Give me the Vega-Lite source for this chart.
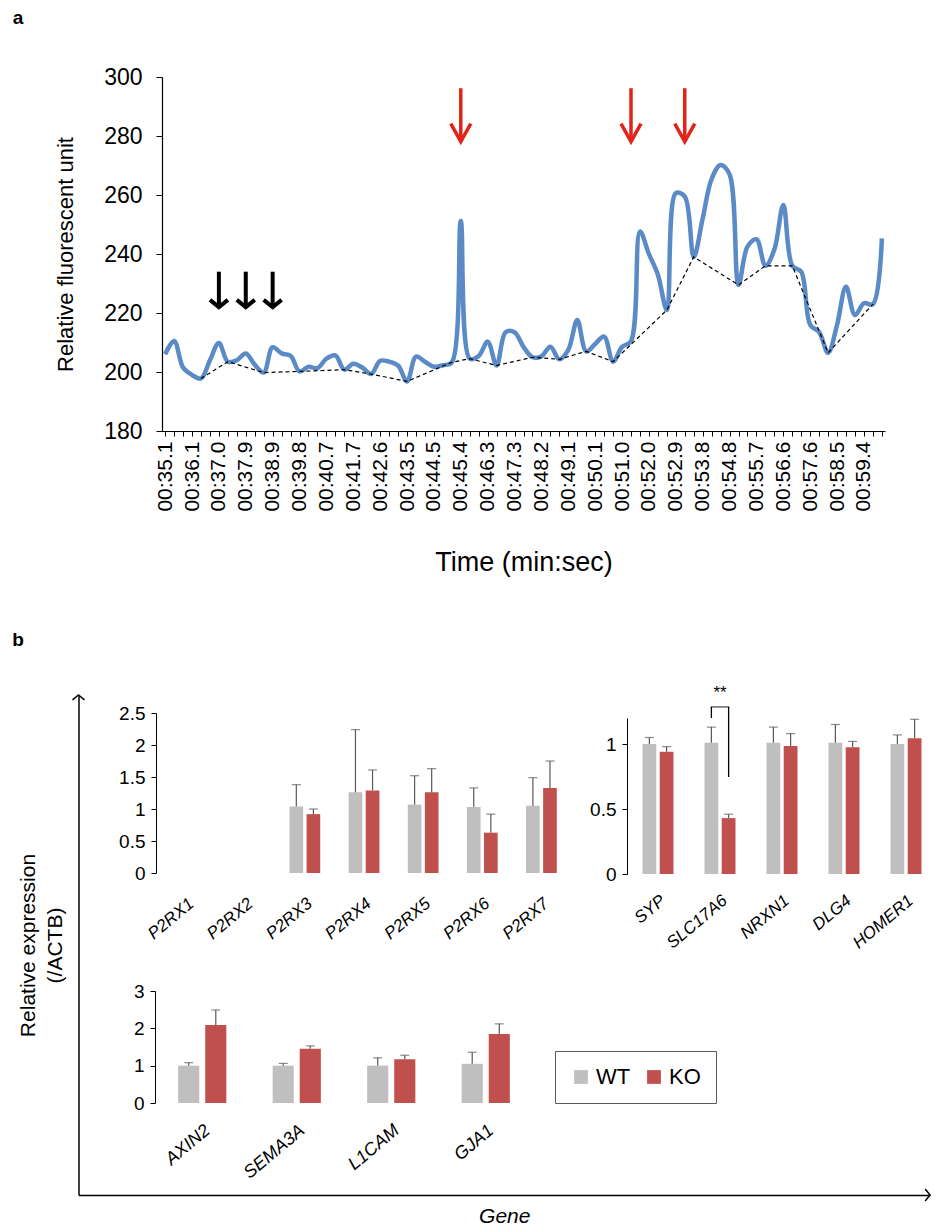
{
  "$schema": "https://vega.github.io/schema/vega-lite/v6.json",
  "width": 937,
  "height": 1230,
  "autosize": {"type": "none"},
  "padding": 0,
  "background": "#ffffff",
  "config": {
    "view": {"stroke": null},
    "font": "Liberation Sans",
    "axis": {"grid": false, "domainColor": "#000000", "tickColor": "#000000", "labelColor": "#000000", "titleColor": "#000000", "labelFont": "Liberation Sans", "titleFont": "Liberation Sans", "titleFontWeight": "normal", "labelOverlap": false, "labelFlush": false, "labelBound": false}
  },
  "datasets": {
    "trace": [
      {"t": "00:35.1", "rfu": 206}, {"t": "00:35.4", "rfu": 210.5}, {"t": "00:35.8", "rfu": 201.5},
      {"t": "00:36.1", "rfu": 199}, {"t": "00:36.4", "rfu": 197.8, "base": 197.8}, {"t": "00:36.7", "rfu": 204},
      {"t": "00:37.0", "rfu": 209.8}, {"t": "00:37.3", "rfu": 203.5, "base": 203.5}, {"t": "00:37.6", "rfu": 204},
      {"t": "00:37.9", "rfu": 206.3}, {"t": "00:38.2", "rfu": 202.5}, {"t": "00:38.5", "rfu": 199.8, "base": 199.8},
      {"t": "00:38.9", "rfu": 208.4}, {"t": "00:39.2", "rfu": 206.3}, {"t": "00:39.5", "rfu": 205.5},
      {"t": "00:39.8", "rfu": 200.2, "base": 200.2}, {"t": "00:40.1", "rfu": 201.8}, {"t": "00:40.4", "rfu": 201.3},
      {"t": "00:40.7", "rfu": 204.5}, {"t": "00:41.0", "rfu": 205.6}, {"t": "00:41.3", "rfu": 200.8, "base": 200.8},
      {"t": "00:41.7", "rfu": 202.8}, {"t": "00:42.0", "rfu": 201.5}, {"t": "00:42.3", "rfu": 199.3, "base": 199.3},
      {"t": "00:42.6", "rfu": 203.8}, {"t": "00:42.9", "rfu": 203.5}, {"t": "00:43.2", "rfu": 202.2},
      {"t": "00:43.5", "rfu": 196.8, "base": 196.8}, {"t": "00:43.8", "rfu": 205.2}, {"t": "00:44.1", "rfu": 203.5},
      {"t": "00:44.5", "rfu": 201.8}, {"t": "00:44.8", "rfu": 202.3}, {"t": "00:45.1", "rfu": 203.3, "base": 203.3},
      {"t": "00:45.4", "rfu": 251.2}, {"t": "00:45.7", "rfu": 204.5, "base": 204.5}, {"t": "00:46.0", "rfu": 205.4},
      {"t": "00:46.3", "rfu": 210.3}, {"t": "00:46.6", "rfu": 202.2, "base": 202.2}, {"t": "00:46.9", "rfu": 213.5},
      {"t": "00:47.3", "rfu": 213.5}, {"t": "00:47.6", "rfu": 208.5}, {"t": "00:47.9", "rfu": 205, "base": 205},
      {"t": "00:48.2", "rfu": 205.3}, {"t": "00:48.5", "rfu": 208.6}, {"t": "00:48.8", "rfu": 204.3, "base": 204.3},
      {"t": "00:49.1", "rfu": 207.5}, {"t": "00:49.4", "rfu": 217.6}, {"t": "00:49.7", "rfu": 207, "base": 207},
      {"t": "00:50.1", "rfu": 209.5}, {"t": "00:50.4", "rfu": 212}, {"t": "00:50.7", "rfu": 203.5, "base": 203.5},
      {"t": "00:51.0", "rfu": 208.5}, {"t": "00:51.3", "rfu": 210.5}, {"t": "00:51.6", "rfu": 247.6},
      {"t": "00:52.0", "rfu": 240}, {"t": "00:52.3", "rfu": 233}, {"t": "00:52.6", "rfu": 221, "base": 221},
      {"t": "00:52.9", "rfu": 260.6}, {"t": "00:53.2", "rfu": 259.5}, {"t": "00:53.5", "rfu": 239, "base": 239},
      {"t": "00:53.8", "rfu": 252}, {"t": "00:54.1", "rfu": 265.5}, {"t": "00:54.5", "rfu": 270.2},
      {"t": "00:54.8", "rfu": 267}, {"t": "00:55.1", "rfu": 229.5, "base": 229.5}, {"t": "00:55.4", "rfu": 242.5},
      {"t": "00:55.7", "rfu": 245}, {"t": "00:56.0", "rfu": 236, "base": 236}, {"t": "00:56.3", "rfu": 241.5},
      {"t": "00:56.6", "rfu": 256.6}, {"t": "00:56.9", "rfu": 236, "base": 236}, {"t": "00:57.3", "rfu": 234},
      {"t": "00:57.6", "rfu": 216}, {"t": "00:57.9", "rfu": 213.5}, {"t": "00:58.2", "rfu": 206.5, "base": 206.5},
      {"t": "00:58.5", "rfu": 216}, {"t": "00:58.8", "rfu": 228.9}, {"t": "00:59.1", "rfu": 219.3},
      {"t": "00:59.4", "rfu": 223.3}, {"t": "00:59.7", "rfu": 223, "base": 223}, {"t": "01:00.0", "rfu": 245.3}
    ],
    "arrows": [
      {"t": "00:37.0", "top": 234, "tip": 222, "kind": "black"},
      {"t": "00:37.9", "top": 234, "tip": 222, "kind": "black"},
      {"t": "00:38.9", "top": 234, "tip": 222, "kind": "black"},
      {"t": "00:45.4", "top": 296.2, "tip": 278.1, "kind": "red"},
      {"t": "00:51.3", "top": 296.2, "tip": 278.1, "kind": "red"},
      {"t": "00:53.2", "top": 296.2, "tip": 278.1, "kind": "red"}
    ],
    "p2rx": [
      {"gene": "P2RX3", "group": "WT", "value": 1.04, "upper": 1.38},
      {"gene": "P2RX3", "group": "KO", "value": 0.92, "upper": 1.0},
      {"gene": "P2RX4", "group": "WT", "value": 1.26, "upper": 2.24},
      {"gene": "P2RX4", "group": "KO", "value": 1.29, "upper": 1.61},
      {"gene": "P2RX5", "group": "WT", "value": 1.07, "upper": 1.52},
      {"gene": "P2RX5", "group": "KO", "value": 1.26, "upper": 1.63},
      {"gene": "P2RX6", "group": "WT", "value": 1.03, "upper": 1.33},
      {"gene": "P2RX6", "group": "KO", "value": 0.63, "upper": 0.92},
      {"gene": "P2RX7", "group": "WT", "value": 1.05, "upper": 1.49},
      {"gene": "P2RX7", "group": "KO", "value": 1.33, "upper": 1.75}
    ],
    "syn": [
      {"gene": "SYP", "group": "WT", "value": 1.0, "upper": 1.05},
      {"gene": "SYP", "group": "KO", "value": 0.94, "upper": 0.98},
      {"gene": "SLC17A6", "group": "WT", "value": 1.01, "upper": 1.13},
      {"gene": "SLC17A6", "group": "KO", "value": 0.43, "upper": 0.46},
      {"gene": "NRXN1", "group": "WT", "value": 1.01, "upper": 1.13},
      {"gene": "NRXN1", "group": "KO", "value": 0.985, "upper": 1.08},
      {"gene": "DLG4", "group": "WT", "value": 1.01, "upper": 1.15},
      {"gene": "DLG4", "group": "KO", "value": 0.975, "upper": 1.02},
      {"gene": "HOMER1", "group": "WT", "value": 1.0, "upper": 1.07},
      {"gene": "HOMER1", "group": "KO", "value": 1.045, "upper": 1.19}
    ],
    "other": [
      {"gene": "AXIN2", "group": "WT", "value": 1.0, "upper": 1.08},
      {"gene": "AXIN2", "group": "KO", "value": 2.09, "upper": 2.49},
      {"gene": "SEMA3A", "group": "WT", "value": 1.0, "upper": 1.06},
      {"gene": "SEMA3A", "group": "KO", "value": 1.45, "upper": 1.53},
      {"gene": "L1CAM", "group": "WT", "value": 1.0, "upper": 1.21},
      {"gene": "L1CAM", "group": "KO", "value": 1.17, "upper": 1.28},
      {"gene": "GJA1", "group": "WT", "value": 1.05, "upper": 1.36},
      {"gene": "GJA1", "group": "KO", "value": 1.85, "upper": 2.12}
    ]
  },
  "layer": [
    {
      "data": {"name": "trace"},
      "encoding": {
        "x": {"field": "t", "type": "ordinal", "title": "Time (min:sec)",
          "scale": {"type": "point", "range": [162, 885], "padding": 0.35},
          "axis": {"orient": "bottom", "offset": -799, "labelAngle": -90, "labelFontSize": 21, "labelPadding": 5, "tickSize": 5, "domainWidth": 1.2, "titleFontSize": 27, "titlePadding": 38,
            "labelExpr": "indexof(['00:35.1','00:36.1','00:37.0','00:37.9','00:38.9','00:39.8','00:40.7','00:41.7','00:42.6','00:43.5','00:44.5','00:45.4','00:46.3','00:47.3','00:48.2','00:49.1','00:50.1','00:51.0','00:52.0','00:52.9','00:53.8','00:54.8','00:55.7','00:56.6','00:57.6','00:58.5','00:59.4'], datum.value) >= 0 ? datum.value : ''"}}
      },
      "layer": [
        {"mark": {"type": "line", "interpolate": "catmull-rom", "color": "#5b8bc6", "strokeWidth": 4.5},
          "encoding": {"y": {"field": "rfu", "type": "quantitative", "title": "Relative fluorescent unit",
            "scale": {"domain": [180, 300], "range": [431, 77], "zero": false, "nice": false},
            "axis": {"orient": "left", "offset": -162, "values": [180, 200, 220, 240, 260, 280, 300], "labelFontSize": 23, "tickSize": 6, "labelPadding": 14, "titleFontSize": 22, "titlePadding": 26, "domainWidth": 1.2}}}},
        {"transform": [{"filter": "isValid(datum.base)"}],
          "mark": {"type": "line", "color": "#000000", "strokeWidth": 1.2, "strokeDash": [4, 3]},
          "encoding": {"y": {"field": "base", "type": "quantitative", "title": "Relative fluorescent unit"}}},
        {"data": {"name": "arrows"}, "transform": [{"filter": "datum.kind == 'black'"}],
          "mark": {"type": "rule", "color": "#000000", "strokeWidth": 4},
          "encoding": {"y": {"field": "top", "type": "quantitative", "title": "Relative fluorescent unit"}, "y2": {"field": "tip"}}},
        {"data": {"name": "arrows"}, "transform": [{"filter": "datum.kind == 'black'"}],
          "mark": {"type": "point", "shape": "M-1,-0.8L0,0L1,-0.8", "filled": false, "color": "#000000", "strokeWidth": 4, "size": 324, "opacity": 1},
          "encoding": {"y": {"field": "tip", "type": "quantitative", "title": "Relative fluorescent unit"}}},
        {"data": {"name": "arrows"}, "transform": [{"filter": "datum.kind == 'red'"}],
          "mark": {"type": "rule", "color": "#e2231a", "strokeWidth": 3.5},
          "encoding": {"y": {"field": "top", "type": "quantitative", "title": "Relative fluorescent unit"}, "y2": {"field": "tip"}}},
        {"data": {"name": "arrows"}, "transform": [{"filter": "datum.kind == 'red'"}],
          "mark": {"type": "point", "shape": "M-1,-1.8L0,0L1,-1.8", "filled": false, "color": "#e2231a", "strokeWidth": 3.5, "size": 400, "opacity": 1},
          "encoding": {"y": {"field": "tip", "type": "quantitative", "title": "Relative fluorescent unit"}}}
      ]
    },
    {
      "data": {"values": [{}]},
      "layer": [
        {"mark": {"type": "point", "shape": "M-1,0.8L0,0L1,0.8", "filled": false, "color": "#000000", "strokeWidth": 1.5, "size": 144, "opacity": 1},
          "encoding": {
            "x": {"datum": 0, "type": "quantitative", "scale": {"domain": [0, 1], "range": [78.5, 930], "nice": false, "zero": false},
              "axis": {"orient": "bottom", "offset": -35, "ticks": false, "labels": false, "domainWidth": 1.5, "title": "Gene", "titleFontStyle": "italic", "titleFontSize": 21, "titlePadding": 10}},
            "y": {"datum": 1, "type": "quantitative", "scale": {"domain": [0, 1], "range": [1195, 695], "nice": false, "zero": false},
              "axis": {"orient": "left", "offset": -78.5, "ticks": false, "labels": false, "domainWidth": 1.5, "title": ["Relative expression", "(/ACTB)"], "titleFontSize": 21, "titlePadding": 13, "titleLineHeight": 27}}}},
        {"mark": {"type": "point", "shape": "M-0.8,-1L0,0L-0.8,1", "filled": false, "color": "#000000", "strokeWidth": 1.5, "size": 144, "opacity": 1},
          "encoding": {"x": {"datum": 1, "type": "quantitative"}, "y": {"datum": 0, "type": "quantitative"}}},
        {"mark": {"type": "text", "text": "a", "fontSize": 19, "fontWeight": "bold", "align": "center", "baseline": "middle", "color": "#000000"},
          "encoding": {"x": {"datum": -0.071, "type": "quantitative"}, "y": {"datum": 2.354, "type": "quantitative"}}},
        {"mark": {"type": "text", "text": "b", "fontSize": 19, "fontWeight": "bold", "align": "center", "baseline": "middle", "color": "#000000"},
          "encoding": {"x": {"datum": -0.071, "type": "quantitative"}, "y": {"datum": 1.11, "type": "quantitative"}}}
      ]
    },
    {
      "data": {"name": "p2rx"},
      "encoding": {
        "x": {"field": "gene", "type": "nominal", "title": null,
          "scale": {"domain": ["P2RX1", "P2RX2", "P2RX3", "P2RX4", "P2RX5", "P2RX6", "P2RX7"], "range": [157, 571], "paddingInner": 0.48, "paddingOuter": 0.24},
          "axis": {"orient": "bottom", "offset": -357, "domain": false, "ticks": false, "labelAngle": -40, "labelFontStyle": "italic", "labelFontSize": 17, "labelPadding": 22}},
        "xOffset": {"field": "group", "type": "nominal", "scale": {"domain": ["WT", "KO"], "paddingInner": 0.2, "paddingOuter": 0}}
      },
      "layer": [
        {"mark": {"type": "bar"},
          "encoding": {
            "y": {"field": "value", "type": "quantitative", "title": null,
              "scale": {"domain": [0, 2.5], "range": [873, 713], "nice": false, "zero": false},
              "axis": {"orient": "left", "offset": -156, "values": [0, 0.5, 1, 1.5, 2, 2.5], "format": "~g", "labelFontSize": 19, "tickSize": 5, "labelPadding": 6, "domainWidth": 1}},
            "color": {"field": "group", "type": "nominal", "scale": {"domain": ["WT", "KO"], "range": ["#bfbfbf", "#c0504d"]},
              "legend": {"orient": "none", "legendX": 555, "legendY": 1051, "direction": "horizontal", "title": null, "symbolType": "square", "symbolSize": 190, "symbolStrokeWidth": 0, "labelFontSize": 22, "labelFont": "Liberation Sans", "labelColor": "#000000", "strokeColor": "#595959", "fillColor": "#ffffff", "padding": 15, "columnPadding": 12, "labelOffset": 4}}}},
        {"mark": {"type": "rule", "color": "#595959", "strokeWidth": 1.2},
          "encoding": {"y": {"field": "value", "type": "quantitative", "title": null}, "y2": {"field": "upper"}}},
        {"mark": {"type": "tick", "orient": "horizontal", "color": "#595959", "size": 9, "thickness": 1.2},
          "encoding": {"y": {"field": "upper", "type": "quantitative", "title": null}}}
      ]
    },
    {
      "data": {"name": "syn"},
      "encoding": {
        "x": {"field": "gene", "type": "nominal", "title": null,
          "scale": {"domain": ["SYP", "SLC17A6", "NRXN1", "DLG4", "HOMER1"], "range": [627, 937], "paddingInner": 0.5, "paddingOuter": 0.25},
          "axis": {"orient": "bottom", "offset": -356, "domain": false, "ticks": false, "labelAngle": -40, "labelFontStyle": "italic", "labelFontSize": 17, "labelPadding": 18}}
      },
      "layer": [
        {"mark": {"type": "bar"},
          "encoding": {
            "xOffset": {"field": "group", "type": "nominal", "scale": {"domain": ["WT", "KO"], "paddingInner": 0.2, "paddingOuter": 0}},
            "y": {"field": "value", "type": "quantitative", "title": null,
              "scale": {"domain": [0, 1.2], "range": [874, 718], "nice": false, "zero": false},
              "axis": {"orient": "left", "offset": -627, "values": [0, 0.5, 1], "format": "~g", "labelFontSize": 19, "tickSize": 5, "labelPadding": 6, "domainWidth": 1}},
            "color": {"field": "group", "type": "nominal", "scale": {"domain": ["WT", "KO"], "range": ["#bfbfbf", "#c0504d"]},
              "legend": {"orient": "none", "legendX": 555, "legendY": 1051, "direction": "horizontal", "title": null, "symbolType": "square", "symbolSize": 190, "symbolStrokeWidth": 0, "labelFontSize": 22, "labelFont": "Liberation Sans", "labelColor": "#000000", "strokeColor": "#595959", "fillColor": "#ffffff", "padding": 15, "columnPadding": 12, "labelOffset": 4}}}},
        {"mark": {"type": "rule", "color": "#595959", "strokeWidth": 1.2},
          "encoding": {"xOffset": {"field": "group", "type": "nominal"}, "y": {"field": "value", "type": "quantitative", "title": null}, "y2": {"field": "upper"}}},
        {"mark": {"type": "tick", "orient": "horizontal", "color": "#595959", "size": 9, "thickness": 1.2},
          "encoding": {"xOffset": {"field": "group", "type": "nominal"}, "y": {"field": "upper", "type": "quantitative", "title": null}}},
        {"data": {"values": [{}]}, "mark": {"type": "rule", "color": "#000000", "strokeWidth": 1.3},
          "encoding": {"x": {"datum": "SLC17A6"}, "xOffset": {"datum": "WT"}, "y": {"datum": 1.2, "type": "quantitative", "title": null}, "y2": {"datum": 1.285}}},
        {"data": {"values": [{}]}, "mark": {"type": "rule", "color": "#000000", "strokeWidth": 1.3},
          "encoding": {"x": {"datum": "SLC17A6"}, "xOffset": {"datum": "KO"}, "y": {"datum": 0.746, "type": "quantitative", "title": null}, "y2": {"datum": 1.285}}},
        {"data": {"values": [{}]}, "mark": {"type": "tick", "orient": "horizontal", "color": "#000000", "size": 18.5, "thickness": 1.3},
          "encoding": {"x": {"datum": "SLC17A6"}, "y": {"datum": 1.285, "type": "quantitative", "title": null}}},
        {"data": {"values": [{}]}, "mark": {"type": "text", "text": "**", "fontSize": 17, "align": "center", "baseline": "middle", "color": "#000000"},
          "encoding": {"x": {"datum": "SLC17A6"}, "y": {"datum": 1.39, "type": "quantitative", "title": null}}}
      ]
    },
    {
      "data": {"name": "other"},
      "encoding": {
        "x": {"field": "gene", "type": "nominal", "title": null,
          "scale": {"domain": ["AXIN2", "SEMA3A", "L1CAM", "GJA1"], "range": [155, 533], "paddingInner": 0.49, "paddingOuter": 0.245},
          "axis": {"orient": "bottom", "offset": -127, "domain": false, "ticks": false, "labelAngle": -40, "labelFontStyle": "italic", "labelFontSize": 18, "labelPadding": 18}},
        "xOffset": {"field": "group", "type": "nominal", "scale": {"domain": ["WT", "KO"], "paddingInner": 0.22, "paddingOuter": 0}}
      },
      "layer": [
        {"mark": {"type": "bar"},
          "encoding": {
            "y": {"field": "value", "type": "quantitative", "title": null,
              "scale": {"domain": [0, 3], "range": [1103, 991], "nice": false, "zero": false},
              "axis": {"orient": "left", "offset": -155, "values": [0, 1, 2, 3], "format": "~g", "labelFontSize": 19, "tickSize": 5, "labelPadding": 6, "domainWidth": 1}},
            "color": {"field": "group", "type": "nominal", "scale": {"domain": ["WT", "KO"], "range": ["#bfbfbf", "#c0504d"]},
              "legend": {"orient": "none", "legendX": 555, "legendY": 1051, "direction": "horizontal", "title": null, "symbolType": "square", "symbolSize": 190, "symbolStrokeWidth": 0, "labelFontSize": 22, "labelFont": "Liberation Sans", "labelColor": "#000000", "strokeColor": "#595959", "fillColor": "#ffffff", "padding": 15, "columnPadding": 12, "labelOffset": 4}}}},
        {"mark": {"type": "rule", "color": "#595959", "strokeWidth": 1.2},
          "encoding": {"y": {"field": "value", "type": "quantitative", "title": null}, "y2": {"field": "upper"}}},
        {"mark": {"type": "tick", "orient": "horizontal", "color": "#595959", "size": 9, "thickness": 1.2},
          "encoding": {"y": {"field": "upper", "type": "quantitative", "title": null}}}
      ]
    }
  ],
  "resolve": {
    "scale": {"x": "independent", "y": "independent", "xOffset": "independent"},
    "axis": {"x": "independent", "y": "independent"}
  }
}
